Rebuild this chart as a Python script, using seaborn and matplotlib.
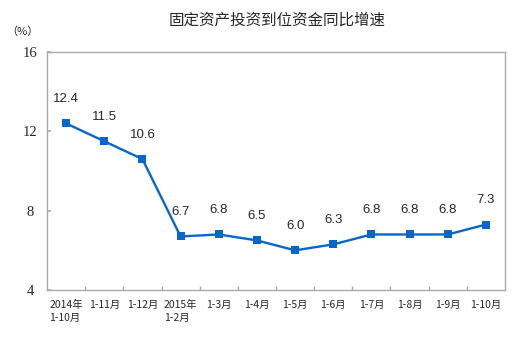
import matplotlib
matplotlib.use("Agg")
import matplotlib.pyplot as plt
import seaborn as sns
import pandas as pd

categories = ["2014年\n1-10月", "1-11月", "1-12月", "2015年\n1-2月", "1-3月", "1-4月",
              "1-5月", "1-6月", "1-7月", "1-8月", "1-9月", "1-10月"]
values = [12.4, 11.5, 10.6, 6.7, 6.8, 6.5, 6.0, 6.3, 6.8, 6.8, 6.8, 7.3]
y_ticks = [4, 8, 12, 16]

sns.set_theme(style="white")
plt.rcParams['font.family'] = ['Noto Sans CJK SC', 'DejaVu Sans']

df = pd.DataFrame({"x": list(range(len(categories))), "v": values})

fig = plt.figure(figsize=(5.32, 3.38), dpi=100)
ax = fig.add_axes([47/532, 1-290/338, 458/532, 238/338])
color = "#0766CC"
sns.lineplot(data=df, x="x", y="v", ax=ax, color=color, linewidth=1.7,
             marker="s", markersize=6, markeredgewidth=0, markerfacecolor=color)

ax.set_xlim(-0.5, len(categories) - 0.5)
ax.set_ylim(4, 16)
ax.set_yticks(y_ticks)
ax.set_yticklabels([str(t) for t in y_ticks], family="Liberation Serif", fontsize=10.5)
ax.set_xticks(range(len(categories)))
ax.set_xticklabels(categories, fontsize=7.5, linespacing=1.4, multialignment="left")
ax.set_xticks([i + 0.5 for i in range(len(categories) - 1)], minor=True)
ax.tick_params(axis="x", which="major", length=0, pad=7)
ax.tick_params(axis="x", which="minor", direction="in", length=3, color="#AAAAAA", bottom=True)
ax.tick_params(axis="y", which="major", direction="in", length=3, color="#AAAAAA", left=True, pad=12)
for lab in ax.get_yticklabels():
    lab.set_horizontalalignment("center")
ax.set_xlabel("")
ax.set_ylabel("")
for s in ax.spines.values():
    s.set_color("#AAAAAA")
    s.set_linewidth(1)

for i, v in enumerate(values):
    ax.annotate(f"{v:.1f}", (i, v), xytext=(0, 13), textcoords="offset points",
                ha="center", va="bottom", fontsize=9.5, family="Liberation Sans")

fig.text(277/532, 1-20/338, "固定资产投资到位资金同比增速", ha="center", va="center",
         fontsize=11.2, weight="medium")
fig.text(22/532, 1-32/338, "（%）", ha="center", va="center", fontsize=8)

fig.savefig("out.png", dpi=100)
